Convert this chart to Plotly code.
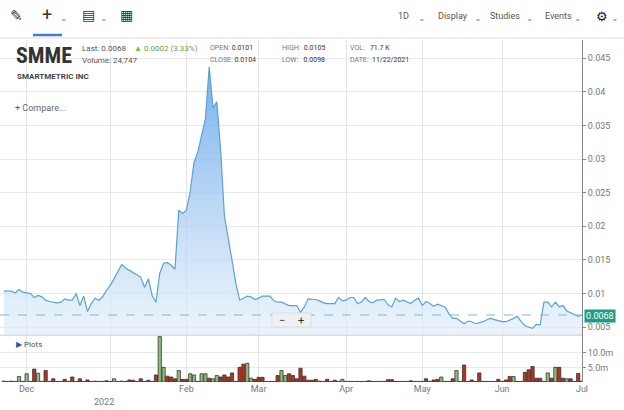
import pandas as pd
import plotly.graph_objects as go

# daily closes, SMME, 11/22/2021 - 6/30/2022
price = [
    0.0103, 0.0104, 0.0103, 0.0101, 0.0106, 0.0102, 0.0101, 0.0100, 0.0094, 0.0097,
    0.0095, 0.0090, 0.0088, 0.0087, 0.0086, 0.0087, 0.0092, 0.0090, 0.0090, 0.0100,
    0.0082, 0.0096, 0.0073, 0.0085, 0.0093, 0.0090, 0.0095, 0.0105, 0.0112, 0.0122,
    0.0133, 0.0143, 0.0138, 0.0134, 0.0131, 0.0128, 0.0124, 0.0109, 0.0122, 0.0097,
    0.0087, 0.0130, 0.0145, 0.0146, 0.0142, 0.0136, 0.0224, 0.0219, 0.0224, 0.0252,
    0.0295, 0.0310, 0.0335, 0.0360, 0.0437, 0.0376, 0.0385, 0.0313, 0.0215, 0.0179,
    0.0149, 0.0115, 0.0090, 0.0093, 0.0096, 0.0095, 0.0091, 0.0093, 0.0096, 0.0096,
    0.0096, 0.0089, 0.0087, 0.0087, 0.0084, 0.0082, 0.0082, 0.0082, 0.0072, 0.0080,
    0.0092, 0.0092, 0.0091, 0.0089, 0.0086, 0.0085, 0.0085, 0.0085, 0.0094, 0.0089,
    0.0090, 0.0094, 0.0094, 0.0085, 0.0087, 0.0094, 0.0088, 0.0086, 0.0090, 0.0091,
    0.0091, 0.0083, 0.0080, 0.0093, 0.0088, 0.0090, 0.0087, 0.0085, 0.0090, 0.0093,
    0.0082, 0.0088, 0.0085, 0.0081, 0.0084, 0.0082, 0.0080, 0.0070, 0.0063, 0.0063,
    0.0059, 0.0055, 0.0059, 0.0058, 0.0055, 0.0056, 0.0058, 0.0061, 0.0063, 0.0061,
    0.0059, 0.0058, 0.0058, 0.0060, 0.0063, 0.0066, 0.0058, 0.0052, 0.0050, 0.0048,
    0.0054, 0.0053, 0.0087, 0.0087, 0.0080, 0.0087, 0.0080, 0.0082, 0.0074, 0.0071,
    0.0069, 0.0066, 0.0068,
]

# volume in millions
volume = [
    0.3, 0.2, 0.3, 0.2, 1.9, 0.2, 2.8, 0.2, 4.4, 3.0,
    0.2, 3.9, 0.2, 1.1, 0.2, 0.2, 0.9, 0.2, 1.7, 0.2,
    1.1, 0.2, 0.7, 0.2, 0.3, 0.2, 0.2, 0.4, 0.2, 1.1,
    0.2, 0.3, 0.2, 0.7, 0.6, 0.2, 1.1, 0.2, 0.6, 0.2,
    2.4, 15.5, 5.0, 2.0, 1.7, 1.1, 3.9, 0.9, 0.9, 2.8,
    2.4, 0.2, 2.8, 2.8, 1.3, 1.1, 2.2, 1.7, 2.4, 1.7,
    3.1, 0.2, 5.0, 6.1, 6.4, 1.3, 0.9, 1.6, 1.6, 0.2,
    0.2, 0.2, 2.2, 3.9, 2.2, 2.8, 2.2, 1.1, 4.7, 2.0,
    0.6, 0.6, 0.9, 0.3, 0.2, 0.9, 0.2, 0.6, 0.2, 0.9,
    0.2, 0.2, 0.2, 0.2, 0.2, 0.2, 0.4, 0.2, 0.2, 0.2,
    0.2, 0.8, 0.8, 0.2, 0.2, 0.2, 0.2, 0.4, 0.2, 0.2,
    0.2, 1.1, 0.2, 0.7, 0.9, 1.7, 0.2, 0.2, 1.1, 3.9,
    0.2, 5.8, 0.2, 0.7, 0.2, 3.1, 0.2, 0.2, 0.2, 0.2,
    0.9, 0.2, 0.7, 1.9, 1.9, 0.2, 0.2, 3.3, 4.2, 5.3,
    1.3, 1.3, 0.2, 3.1, 1.3, 5.0, 5.0, 1.3, 1.1, 1.1,
    0.2, 2.9, 0.3,
]
up_days = [4, 6, 9, 29, 41, 42, 46, 49, 50, 52, 53, 55, 56, 64, 65, 73, 74, 89,
           115, 119, 134, 143, 145, 148]

holidays = ['2021-11-25', '2021-12-24', '2022-01-17', '2022-02-21',
            '2022-04-15', '2022-05-30', '2022-06-20']
dates = pd.bdate_range('2021-11-22', periods=len(price), freq='C', holidays=holidays)

month_ticks = ['2021-12-01', '2022-01-03', '2022-02-01', '2022-03-01',
               '2022-04-01', '2022-05-02', '2022-06-01', '2022-07-01']
month_labels = ['Dec', '', 'Feb', 'Mar', 'Apr', 'May', 'Jun', 'Jul']
price_ticks = [0.005, 0.01, 0.015, 0.02, 0.025, 0.03, 0.035, 0.04, 0.045]
price_labels = ['0.005', '0.01', '0.015', '0.02', '0.025', '0.03', '0.035', '0.04', '0.045']

bar_colors = ['#8fbc7a' if i in up_days else '#b5321f' for i in range(len(volume))]

fig = go.Figure()
fig.add_trace(go.Scatter(
    x=dates, y=price, mode='lines', line=dict(color='#5aa3cf', width=1.2),
    fill='tozeroy',
    fillgradient=dict(type='vertical', colorscale=[[0, 'rgba(235,244,252,0.6)'],
                                                   [1, 'rgba(110,170,235,0.95)']]),
    yaxis='y', xaxis='x'))
fig.add_trace(go.Bar(
    x=dates, y=volume, marker=dict(color=bar_colors, line=dict(color='#333', width=0.8)),
    yaxis='y2', xaxis='x'))

W, H = 624, 410
L, R, T, B = 0, 42, 40, 28
pw, ph = W - L - R, H - T - B


def px(x, y):
    return (x - L) / pw, (H - B - y) / ph


axis_font = dict(size=9, color='#777', family='Roboto')
fig.update_layout(
    width=W, height=H, margin=dict(l=L, r=R, t=T, b=B, autoexpand=False),
    paper_bgcolor='white', plot_bgcolor='white', showlegend=False, bargap=0.15,
    font=dict(family='Roboto', size=10, color='#666'),
    xaxis=dict(type='date', range=['2021-11-21', '2022-07-01'],
               rangebreaks=[dict(bounds=['sat', 'mon']), dict(values=holidays)],
               tickvals=month_ticks, ticktext=month_labels, showgrid=True,
               gridcolor='#e3e3e3', ticks='', tickfont=axis_font, automargin=False,
               anchor='y2', showline=False, zeroline=False),
    yaxis=dict(domain=[0.137, 1], range=[0.0038, 0.0477], side='right',
               tickvals=price_ticks, ticktext=price_labels, automargin=False,
               gridcolor='#e8e8e8', showline=True, linecolor='#888', ticks='outside',
               ticklen=3, tickcolor='#888', tickfont=axis_font, zeroline=False),
    yaxis2=dict(domain=[0, 0.137], range=[0, 16], side='right', tickvals=[5, 10],
                ticktext=['5.0m', '10.0m'], gridcolor='#e8e8e8', showline=True,
                linecolor='#888', ticks='outside', ticklen=3, tickcolor='#888',
                tickfont=axis_font, zeroline=False, automargin=False),
)

shapes = []
# toolbar
shapes.append(dict(type='rect', xref='paper', yref='paper', x0=px(-5, 0)[0], x1=px(630, 0)[0],
                   y0=px(0, 38)[1], y1=px(0, -5)[1], fillcolor='white', line=dict(width=0), layer='above'))
shapes.append(dict(type='line', xref='paper', yref='paper', x0=px(0, 0)[0], x1=px(624, 0)[0],
                   y0=px(0, 38)[1], y1=px(0, 38)[1], line=dict(color='#ddd', width=1)))
shapes.append(dict(type='line', xref='paper', yref='paper', x0=px(33, 0)[0], x1=px(62, 0)[0],
                   y0=px(0, 35)[1], y1=px(0, 35)[1], line=dict(color='#3b7fd6', width=2.5)))
# pane separator
shapes.append(dict(type='line', xref='paper', yref='paper', x0=0, x1=1,
                   y0=0.137, y1=0.137, line=dict(color='#ccc', width=1)))
# last price dashed line
shapes.append(dict(type='line', xref='paper', yref='y', x0=0, x1=1, y0=price[-1], y1=price[-1],
                   line=dict(color='#7fbfb5', width=1, dash='dash')))
# zoom buttons box
shapes.append(dict(type='rect', xref='paper', yref='paper', x0=px(272, 0)[0], x1=px(311, 0)[0],
                   y0=px(0, 327)[1], y1=px(0, 313)[1], fillcolor='rgba(240,240,240,0.9)',
                   line=dict(color='#ddd', width=1)))
fig.update_layout(shapes=shapes)

ann = []


def text(x, y, s, size=8, color='#555', bold=False, anchor='left', family='Roboto', bg=None):
    xp, yp = px(x, y)
    ann.append(dict(xref='paper', yref='paper', x=xp, y=yp, text=f'<b>{s}</b>' if bold else s,
                    showarrow=False, xanchor=anchor, yanchor='middle', borderpad=1,
                    font=dict(size=size, color=color, family=family), bgcolor=bg))


text(8, 16, '✎', 15, '#333')
text(40, 14, '+', 18, '#333')
text(58, 18, '⌄', 9, '#777')
text(80, 15, '▤', 14, '#333')
text(98, 18, '⌄', 9, '#777')
text(118, 15, '▦', 14, '#333')
text(396, 16, '1D', 9, '#555')
text(416, 18, '⌄', 9, '#777')
text(436, 16, 'Display', 9, '#555')
text(472, 18, '⌄', 9, '#777')
text(488, 16, 'Studies', 9, '#555')
text(524, 18, '⌄', 9, '#777')
text(543, 16, 'Events', 9, '#555')
text(572, 18, '⌄', 9, '#777')
text(594, 16, '⚙', 13, '#222')
text(609, 18, '⌄', 9, '#777')

text(14, 55, 'SMME', 22, '#333', bold=True, family='Roboto Condensed, Roboto')
text(80, 48, 'Last: 0.0068', 8)
text(80, 61, 'Volume: 24,747', 8)
text(132, 48, '<span style="color:#6cbf4a">▲</span> 0.0002 (3.33%)', 8, '#6a9d55')
text(15, 76, 'SMARTMETRIC INC', 8, '#444', bold=True)
text(208, 48, 'OPEN: <span style="color:#333">0.0101</span>', 7, '#777')
text(208, 60, 'CLOSE: <span style="color:#333">0.0104</span>', 7, '#777')
text(280, 48, 'HIGH: &nbsp;<span style="color:#333">0.0105</span>', 7, '#777')
text(280, 60, 'LOW: &nbsp;&nbsp;<span style="color:#333">0.0098</span>', 7, '#777')
text(348, 48, 'VOL: &nbsp;&nbsp;<span style="color:#333">71.7 K</span>', 7, '#777')
text(348, 60, 'DATE: &nbsp;<span style="color:#333">11/22/2021</span>', 7, '#777')
text(13, 108, '<span style="color:#2b5f9e">+</span> Compare...', 9, '#666')
text(277, 320, '−', 11, '#333')
text(296, 320, '+', 11, '#333')
text(14, 344, '<span style="color:#2b5f9e">▶</span> Plots', 8, '#555')
text(104, 402, '2022', 9, '#777', anchor='center')
text(584, 316, '0.0068', 9, 'white', bg='#1e9b86')
fig.update_layout(annotations=ann)

# page body has a default 8px margin; drop it so the figure sits flush
fig.write_html("out.html", config={'displayModeBar': False},
               post_script="document.body.style.margin='0';")
